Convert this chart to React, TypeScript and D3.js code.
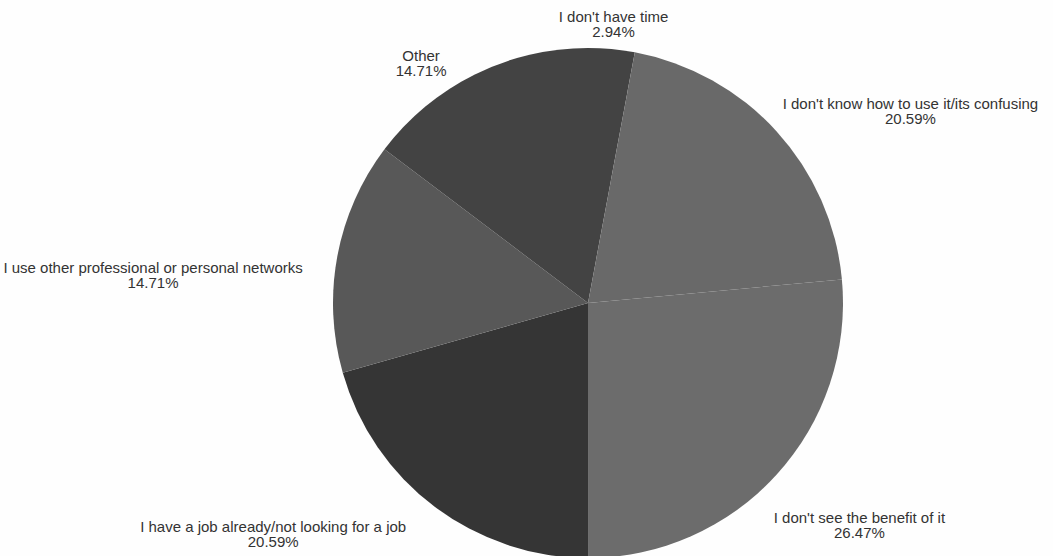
import React from "react";
import * as d3 from "d3";

const categories = [
  "I don't have time",
  "I don't know how to use it/its confusing",
  "I don't see the benefit of it",
  "I have a job already/not looking for a job",
  "I use other professional or personal networks",
  "Other",
];
const percents = [2.94, 20.59, 26.47, 20.59, 14.71, 14.71];
const sliceColors = ["#434343", "#696969", "#6c6c6c", "#353535", "#585858", "#434343"];
// label layout nudges (px) applied after the rule-based placement
const labelNudges: [number, number][] = [
  [0, -3],
  [-10, -5],
  [-19, 36],
  [-15, 10],
  [-13, 23],
  [-18, 8],
];

const W = 1053;
const H = 556;
const cx = 588;
const cy = 303;
const R = 255;
const FONT = "15px 'Liberation Sans', Arial, sans-serif";

function measure(text: string): number {
  if (typeof document === "undefined") return text.length * 7.5;
  const c = document.createElement("canvas");
  const ctx = c.getContext("2d");
  if (!ctx) return text.length * 7.5;
  ctx.font = FONT;
  return ctx.measureText(text).width;
}

export default function App() {
  const data = categories.map((c, i) => ({ label: c, value: percents[i], color: sliceColors[i] }));
  const pie = d3
    .pie<any>()
    .sort(null)
    .value((d: any) => d.value)
    .startAngle(0)
    .endAngle(2 * Math.PI);
  const arcs = pie(data);
  const arc = d3.arc<any>().innerRadius(0).outerRadius(R);
  const lineH = 15;

  return (
    <svg
      width={W}
      height={H}
      style={{ position: "absolute", left: 0, top: 0, background: "#fefefe" }}
    >
      <rect x={0} y={0} width={W} height={H} fill="#fefefe" />
      <g transform={`translate(${cx},${cy})`}>
        {arcs.map((a, i) => (
          <path key={i} d={arc(a) as string} fill={a.data.color} />
        ))}
        {arcs.map((a, i) => {
          const mid = (a.startAngle + a.endAngle) / 2;
          const ux = Math.sin(mid);
          const uy = -Math.cos(mid);
          const rl = R + 22;
          const px = rl * ux + labelNudges[i][0];
          const py = rl * uy;
          const pct = d3.format(".2f")(a.data.value) + "%";
          const w = Math.max(measure(a.data.label), measure(pct));
          let x = px;
          if (ux > 0.3) x = px + w / 2;
          else if (ux < -0.3) x = px - w / 2;
          const y = py + labelNudges[i][1];
          return (
            <text
              key={"t" + i}
              x={x}
              y={y}
              textAnchor="middle"
              style={{ font: FONT, fill: "#333333" }}
            >
              <tspan x={x} dy={-lineH / 2 + 5}>
                {a.data.label}
              </tspan>
              <tspan x={x} dy={lineH}>
                {pct}
              </tspan>
            </text>
          );
        })}
      </g>
    </svg>
  );
}
